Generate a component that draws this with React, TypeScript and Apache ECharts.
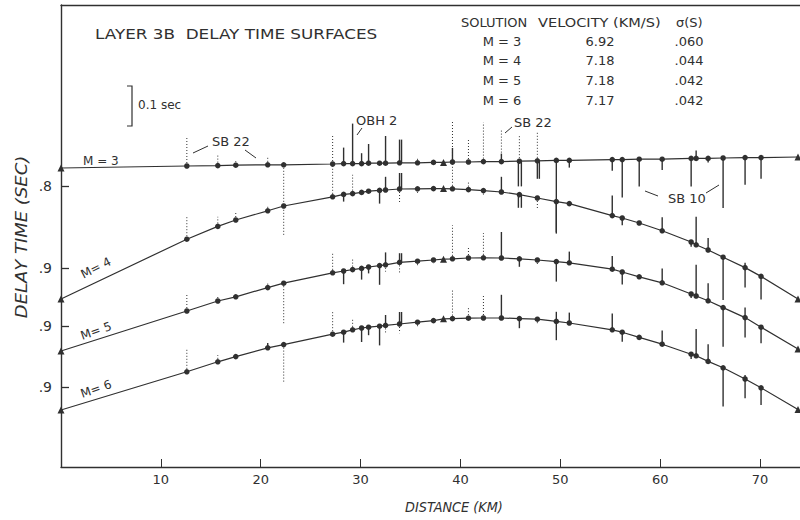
import React, { useEffect, useRef } from "react";
import * as echarts from "echarts";

// Station distances (km)
const STATIONS_KM = [0, 12.6, 15.7, 17.5, 20.7, 22.3, 27.2, 28.3, 29.2, 30.1, 30.8, 31.9, 32.5, 33.9, 35.7, 37.3, 38.3, 39.2, 40.8, 42.3, 44.1, 45.9, 47.7, 49.6, 50.9, 55.2, 56.2, 57.9, 60.2, 63.1, 63.6, 64.8, 66.3, 68.5, 70.1, 73.8];
const TRIANGLE_KM = [0, 38.3, 73.8];

// Delay-time surfaces (s) at each station
const M3_DELAY = [0.755, 0.750, 0.749, 0.748, 0.747, 0.747, 0.745, 0.744, 0.744, 0.744, 0.743, 0.743, 0.743, 0.742, 0.742, 0.741, 0.741, 0.740, 0.740, 0.739, 0.739, 0.738, 0.737, 0.736, 0.736, 0.734, 0.734, 0.733, 0.733, 0.731, 0.731, 0.731, 0.730, 0.729, 0.729, 0.7275];
const M4_DELAY = [0.9775, 0.828, 0.796, 0.780, 0.757, 0.745, 0.722, 0.716, 0.714, 0.711, 0.708, 0.706, 0.705, 0.7025, 0.702, 0.7015, 0.7015, 0.702, 0.704, 0.7065, 0.710, 0.7165, 0.725, 0.734, 0.739, 0.769, 0.775, 0.7875, 0.807, 0.835, 0.842, 0.855, 0.873, 0.899, 0.921, 0.9775];
const M5_DELAY = [0.9625, 0.8625, 0.8375, 0.827, 0.804, 0.793, 0.767, 0.7625, 0.759, 0.756, 0.7525, 0.749, 0.747, 0.741, 0.738, 0.735, 0.733, 0.732, 0.730, 0.7295, 0.730, 0.732, 0.735, 0.739, 0.742, 0.758, 0.765, 0.777, 0.792, 0.820, 0.825, 0.837, 0.854, 0.879, 0.903, 0.9575];
const M6_DELAY = [0.9575, 0.862, 0.837, 0.824, 0.802, 0.794, 0.768, 0.763, 0.757, 0.7525, 0.7505, 0.748, 0.746, 0.7425, 0.738, 0.734, 0.7295, 0.729, 0.728, 0.7275, 0.7275, 0.729, 0.7305, 0.736, 0.740, 0.757, 0.763, 0.776, 0.793, 0.818, 0.822, 0.836, 0.852, 0.880, 0.902, 0.956];

// Residuals [km, seconds] (positive = later arrival)
const M3_SOLID = [[28.3, -0.04], [29.2, -0.10], [30.1, -0.026], [30.8, -0.048], [32.5, -0.068], [33.9, -0.058], [34.1, -0.058], [39.2, -0.035], [44.1, -0.02], [45.8, 0.063], [46.1, 0.063], [47.7, 0.045], [47.9, 0.045], [49.6, 0.18], [50.9, 0.018], [55.2, 0.028], [56.2, 0.095], [57.9, 0.068], [60.2, 0.027], [63.1, 0.07], [63.6, -0.02], [64.8, 0.01], [66.3, 0.125], [68.5, 0.068], [70.1, 0.053]];
const M3_DOTTED = [[12.6, -0.07], [15.7, -0.025], [17.5, -0.012], [20.7, -0.018], [22.3, 0.18], [27.2, -0.073], [35.7, -0.015], [39.2, -0.10], [40.8, -0.058], [42.3, -0.098], [44.1, -0.08], [45.9, -0.063], [47.7, -0.07]];
const M4_SOLID = [[28.3, 0.018], [31.9, 0.033], [32.5, -0.033], [33.9, -0.04], [34.1, -0.04], [44.1, -0.038], [45.8, 0.033], [46.1, 0.033], [49.6, 0.08], [55.2, -0.05], [56.2, 0.018], [60.2, -0.034], [63.1, 0.012], [63.6, -0.07], [64.8, -0.03], [66.3, 0.107], [68.5, 0.05], [68.5, -0.012], [70.1, 0.058]];
const M4_DOTTED = [[12.6, -0.058], [15.7, -0.024], [17.5, -0.02], [20.7, -0.012], [27.2, -0.08], [29.2, -0.047], [33.9, 0.035], [35.7, 0.015], [39.2, -0.07], [40.8, -0.02], [42.3, 0.01], [47.7, 0.03]];
const M5_SOLID = [[28.3, 0.033], [30.1, 0.028], [30.8, 0.016], [31.9, 0.048], [32.5, -0.031], [33.9, -0.023], [34.1, -0.023], [44.1, -0.065], [45.9, 0.02], [49.6, 0.05], [50.9, -0.028], [55.2, -0.033], [56.2, 0.031], [60.2, -0.036], [63.1, 0.01], [63.6, -0.078], [64.8, -0.044], [66.3, 0.098], [68.5, 0.05], [68.5, -0.025], [70.1, 0.04]];
const M5_DOTTED = [[12.6, -0.044], [15.7, -0.012], [20.7, -0.015], [22.3, 0.10], [27.2, -0.048], [29.2, -0.028], [32.5, 0.017], [33.9, 0.03], [35.7, 0.01], [37.3, 0.008], [39.2, -0.084], [40.8, -0.028], [42.3, -0.062], [47.7, 0.01]];
const M6_SOLID = [[20.7, -0.012], [28.3, 0.026], [30.1, 0.035], [30.8, 0.02], [31.9, 0.048], [32.5, -0.026], [33.9, -0.03], [34.1, -0.03], [44.1, -0.058], [45.9, 0.024], [49.6, -0.024], [49.6, 0.047], [50.9, -0.026], [55.2, -0.041], [56.2, 0.024], [60.2, -0.034], [63.1, 0.012], [63.6, -0.067], [64.8, -0.043], [66.3, 0.097], [68.5, 0.048], [68.5, -0.01], [70.1, 0.043]];
const M6_DOTTED = [[12.6, -0.057], [15.7, -0.017], [22.3, 0.097], [27.2, -0.06], [29.2, -0.026], [32.5, 0.022], [33.9, 0.023], [35.7, 0.01], [39.2, -0.073], [40.8, -0.028], [42.3, -0.059], [47.7, 0.01]];

// Axis ticks
const X_TICKS = [10, 20, 30, 40, 50, 60, 70];
const Y_TICKS = [[0.8], [0.9], [0.9], [0.9]];

// Solution table
const TABLE_M = ["M = 3", "M = 4", "M = 5", "M = 6"];
const VELOCITIES = ["6.92", "7.18", "7.18", "7.17"];
const SIGMAS = [".060", ".044", ".042", ".042"];

const CURVES = [M3_DELAY, M4_DELAY, M5_DELAY, M6_DELAY];
const SOLIDS = [M3_SOLID, M4_SOLID, M5_SOLID, M6_SOLID];
const DOTTEDS = [M3_DOTTED, M4_DOTTED, M5_DOTTED, M6_DOTTED];
const Y_RANGES = [[0.3475, 1.5025], [0.2425, 1.3975], [0.0975, 1.2525], [-0.055, 1.10]];

const INK = "#303030";
const FONT = '"DejaVu Sans", "Liberation Sans", sans-serif';

function nearestIndex(km: number) {
  let best = 0;
  for (let i = 1; i < STATIONS_KM.length; i++) {
    if (Math.abs(STATIONS_KM[i] - km) < Math.abs(STATIONS_KM[best] - km)) best = i;
  }
  return best;
}

function txt(text: string, x: number, y: number, size: number, opts: any = {}) {
  return {
    type: "text",
    x,
    y,
    rotation: opts.rotation || 0,
    scaleX: opts.sx || 1,
    silent: true,
    style: {
      text,
      fill: INK,
      font: `${opts.italic ? "italic " : ""}${size}px ${FONT}`,
      align: opts.align || "left",
      verticalAlign: "middle",
      textAlign: opts.align || "left",
      textVerticalAlign: "middle",
    },
  };
}

function seg(x1: number, y1: number, x2: number, y2: number) {
  return { type: "line", silent: true, shape: { x1, y1, x2, y2 }, style: { stroke: INK, lineWidth: 1 } };
}

export default function App() {
  const ref = useRef<HTMLDivElement>(null);

  useEffect(() => {
    document.body.style.margin = "0";
    const chart = echarts.init(ref.current!, null, { renderer: "svg" });

    const series: any[] = [];
    CURVES.forEach((curve, m) => {
      const residualData: any[] = [];
      SOLIDS[m].forEach(([km, r]) => {
        const base = curve[nearestIndex(km)];
        residualData.push([km, base, base + r, 0]);
      });
      DOTTEDS[m].forEach(([km, r]) => {
        const base = curve[nearestIndex(km)];
        residualData.push([km, base, base + r, 1]);
      });
      series.push({
        type: "custom",
        yAxisIndex: m,
        silent: true,
        z: 1,
        encode: { x: 0, y: [1, 2] },
        data: residualData,
        renderItem: (params: any, api: any) => {
          const x = api.value(0);
          const p0 = api.coord([x, api.value(1)]);
          const p1 = api.coord([x, api.value(2)]);
          const dotted = api.value(3) === 1;
          return {
            type: "line",
            shape: { x1: p0[0], y1: p0[1], x2: p1[0], y2: p1[1] },
            style: {
              stroke: INK,
              lineWidth: dotted ? 1 : 1.4,
              lineDash: dotted ? [1, 2] : null,
            },
          };
        },
      });
      series.push({
        type: "line",
        name: TABLE_M[m],
        yAxisIndex: m,
        z: 3,
        smooth: false,
        lineStyle: { color: INK, width: 1.2 },
        itemStyle: { color: INK },
        data: STATIONS_KM.map((km, i) => {
          const tri = TRIANGLE_KM.includes(km);
          return { value: [km, curve[i]], symbol: tri ? "triangle" : "circle", symbolSize: tri ? 7 : 5.5 };
        }),
      });
    });

    const yAxes = Y_RANGES.map((r, m) => ({
      type: "value",
      inverse: true,
      min: r[0],
      max: r[1],
      position: "left",
      offset: 0,
      splitLine: { show: false },
      axisLine: { show: m === 0, onZero: false, lineStyle: { color: INK, width: 1.4 } },
      axisTick: { show: true, inside: true, length: 8, customValues: Y_TICKS[m], lineStyle: { color: INK, width: 1.3 } },
      axisLabel: {
        customValues: Y_TICKS[m],
        margin: 9,
        color: INK,
        fontSize: 14,
        fontFamily: FONT,
        formatter: (v: number) => String(v).replace(/^0/, ""),
      },
    }));

    const graphic: any[] = [
      txt("LAYER 3B  DELAY TIME SURFACES", 95, 34, 14, { sx: 1.2 }),
      txt("SOLUTION", 461, 22, 13, { sx: 1.0 }),
      txt("VELOCITY (KM/S)", 538, 22, 13, { sx: 1.12 }),
      txt("σ(S)", 676, 22, 13),
      { type: "polyline", silent: true, shape: { points: [[127, 86], [132, 86], [132, 126], [127, 126]] }, style: { stroke: INK, lineWidth: 1.2, fill: null } },
      txt("0.1 sec", 138, 105, 12),
      txt("SB 22", 212, 141, 13),
      seg(193, 153, 208, 146),
      seg(245, 150, 256, 158),
      txt("OBH 2", 356, 120, 13),
      seg(357, 135, 362, 128),
      txt("SB 22", 514, 122, 13),
      seg(505, 133, 512, 127),
      txt("SB 10", 668, 198, 13),
      seg(645, 191, 658, 196),
      seg(706, 193, 719, 185),
      txt("M = 3", 83, 161, 12),
      txt("M= 4", 96, 268, 12, { align: "center", rotation: 0.47 }),
      txt("M= 5", 96, 331, 12, { align: "center", rotation: 0.33 }),
      txt("M= 6", 96, 389, 12, { align: "center", rotation: 0.33 }),
      txt("DELAY TIME (SEC)", 22, 237, 15, { align: "center", rotation: Math.PI / 2, italic: true, sx: 1.2 }),
      txt("DISTANCE (KM)", 454, 507, 14, { align: "center", italic: true, sx: 0.92 }),
    ];
    TABLE_M.forEach((m, i) => {
      const y = 41 + i * 19.7;
      graphic.push(txt(m, 502, y, 13, { align: "center" }));
      graphic.push(txt(VELOCITIES[i], 600, y, 13, { align: "center" }));
      graphic.push(txt(SIGMAS[i], 689, y, 13, { align: "center" }));
    });

    chart.setOption({
      animation: false,
      backgroundColor: "#ffffff",
      grid: { left: 61, right: 0, top: 5, bottom: 53 },
      xAxis: [
        {
          type: "value",
          min: 0,
          max: 74,
          position: "bottom",
          splitLine: { show: false },
          axisLine: { onZero: false, lineStyle: { color: INK, width: 1.4 } },
          axisTick: { inside: true, length: 8, customValues: X_TICKS, lineStyle: { color: INK, width: 1 } },
          axisLabel: { customValues: X_TICKS, margin: 6, color: INK, fontSize: 13, fontFamily: FONT },
        },
        {
          type: "value",
          min: 0,
          max: 74,
          position: "top",
          splitLine: { show: false },
          axisLine: { show: true, onZero: false, lineStyle: { color: INK, width: 1.4 } },
          axisTick: { show: false },
          axisLabel: { show: false },
        },
      ],
      yAxis: yAxes,
      series,
      graphic,
    });

    return () => chart.dispose();
  }, []);

  return <div ref={ref} style={{ width: 800, height: 520 }} />;
}
